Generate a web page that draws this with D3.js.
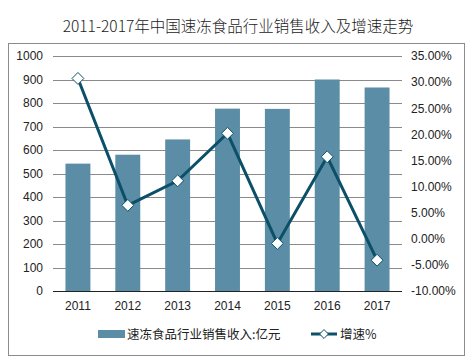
<!DOCTYPE html>
<html>
<head>
<meta charset="utf-8">
<script src="https://cdn.jsdelivr.net/npm/d3@7"></script>
<style>
  body { margin: 0; background: #fff; }
  text { font-family: "Liberation Sans", Arial, sans-serif; }
</style>
</head>
<body>
<div id="chart-area"></div>
<script>
// 数据
const years = ["2011", "2012", "2013", "2014", "2015", "2016", "2017"];
const sales = [542, 580, 645, 776, 775, 900, 866];
const growth = [30.7, 6.4, 11.1, 20.2, -0.9, 15.7, -4.1];
const leftTicks = [0, 100, 200, 300, 400, 500, 600, 700, 800, 900, 1000];
const rightTicks = [-10, -5, 0, 5, 10, 15, 20, 25, 30, 35];

const width = 468;
const height = 363;
const margin = { top: 56, right: 66, bottom: 72, left: 53 };

const svg = d3.select("#chart-area")
    .append("svg")
    .attr("width", width)
    .attr("height", height);

// 外框
svg.append("rect")
    .attr("x", 8.5).attr("y", 43.5)
    .attr("width", 456).attr("height", 312)
    .attr("fill", "none")
    .attr("stroke", "#8c8c8c");

svg.append("text")
    .attr("x", 238).attr("y", 32)
    .attr("text-anchor", "middle")
    .style("font-family", "'Noto Sans CJK SC', sans-serif")
    .style("font-size", "15.5px")
    .style("font-weight", "300")
    .attr("fill", "#222")
    .text("2011-2017年中国速冻食品行业销售收入及增速走势");

const x = d3.scaleBand()
    .domain(years)
    .range([margin.left, width - margin.right])
    .paddingInner(0.5)
    .paddingOuter(0.25);

const y = d3.scaleLinear()
    .domain([0, 1000])
    .range([height - margin.bottom, margin.top]);

const y2 = d3.scaleLinear()
    .domain([-10, 35])
    .range([height - margin.bottom, margin.top]);

// 网格线
svg.append("g")
    .selectAll("line")
    .data(leftTicks.slice(1))
    .enter()
    .append("line")
    .attr("x1", margin.left)
    .attr("x2", width - margin.right)
    .attr("y1", d => Math.round(y(d)) + 0.5)
    .attr("y2", d => Math.round(y(d)) + 0.5)
    .attr("stroke", "#8a8a8a")
    .attr("stroke-width", 1);

// 左轴
const leftAxis = svg.append("g")
    .attr("transform", `translate(${margin.left},0)`)
    .call(d3.axisLeft(y).tickValues(leftTicks).tickSize(0).tickPadding(10)
        .tickFormat(d3.format("d")));
leftAxis.select(".domain").remove();
leftAxis.selectAll("text").style("font-size", "12px").attr("fill", "#222");

// 右轴
const rightAxis = svg.append("g")
    .attr("transform", `translate(${width - margin.right},0)`)
    .call(d3.axisRight(y2).tickValues(rightTicks).tickSize(0).tickPadding(9)
        .tickFormat(d => d.toFixed(2) + "%"));
rightAxis.select(".domain").remove();
rightAxis.selectAll("text").style("font-size", "12px").attr("fill", "#222");

// 柱
svg.append("g")
    .selectAll("rect")
    .data(sales)
    .enter()
    .append("rect")
    .attr("x", (d, i) => x(years[i]))
    .attr("y", d => y(d))
    .attr("width", x.bandwidth())
    .attr("height", d => y(0) - y(d))
    .attr("fill", "#5b8ea6");

// x轴
const bottomAxis = svg.append("g")
    .attr("transform", `translate(0,${Math.round(y(0)) + 0.5})`)
    .call(d3.axisBottom(x).tickSize(0).tickPadding(10));
bottomAxis.select(".domain").attr("stroke", "#222").attr("d", `M${margin.left},0H${width - margin.right}`);
bottomAxis.selectAll("text").style("font-size", "12px").attr("fill", "#222");

// 折线
const line = d3.line()
    .x((d, i) => x(years[i]) + x.bandwidth() / 2)
    .y(d => y2(d));

svg.append("path")
    .datum(growth)
    .attr("d", line)
    .attr("fill", "none")
    .attr("stroke", "#0b5068")
    .attr("stroke-width", 3);

const diamond = d3.symbol().type(d3.symbolDiamond2).size(90);

svg.append("g")
    .selectAll("path")
    .data(growth)
    .enter()
    .append("path")
    .attr("d", diamond)
    .attr("transform", (d, i) => `translate(${x(years[i]) + x.bandwidth() / 2},${y2(d)})`)
    .attr("fill", "#fff")
    .attr("stroke", "#0b5068")
    .attr("stroke-width", 1);

// 图例
const legend = svg.append("g").attr("transform", "translate(0,334)");
legend.append("rect")
    .attr("x", 98).attr("y", -4)
    .attr("width", 27).attr("height", 8)
    .attr("fill", "#5b8ea6");
legend.append("text")
    .attr("x", 127).attr("y", 5)
    .style("font-family", "'Noto Sans CJK SC', sans-serif")
    .style("font-size", "12.5px")
    .attr("fill", "#222")
    .text("速冻食品行业销售收入:亿元");
legend.append("line")
    .attr("x1", 311).attr("x2", 337)
    .attr("y1", 0).attr("y2", 0)
    .attr("stroke", "#0b5068")
    .attr("stroke-width", 3);
legend.append("path")
    .attr("d", d3.symbol().type(d3.symbolDiamond2).size(50))
    .attr("transform", "translate(324,0)")
    .attr("fill", "#fff")
    .attr("stroke", "#0b5068");
legend.append("text")
    .attr("x", 340).attr("y", 5)
    .style("font-family", "'Noto Sans CJK SC', sans-serif")
    .style("font-size", "12.5px")
    .attr("fill", "#222")
    .text("增速%");
</script>
</body>
</html>
